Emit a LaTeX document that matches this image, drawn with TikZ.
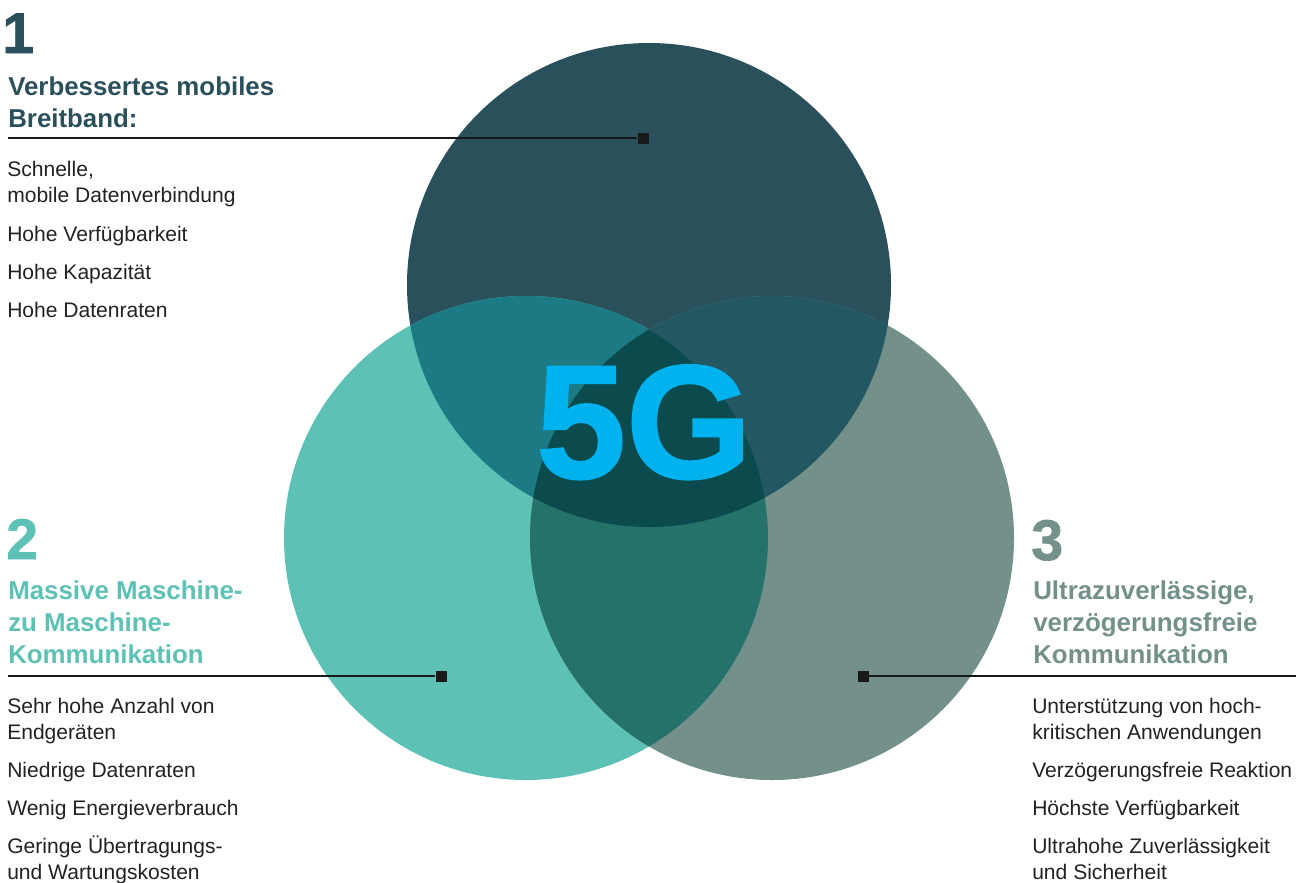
\documentclass[tikz,border=0pt]{standalone}
\usepackage{fontspec}
\setmainfont{Liberation Sans}
\newfontfamily\heavyfont[FakeBold=1.2]{Liberation Sans Bold}
\usetikzlibrary{positioning}

\definecolor{topcol}{HTML}{2A505C}
\definecolor{leftcol}{HTML}{5DC2B5}
\definecolor{rightcol}{HTML}{73908A}
\definecolor{tlcol}{HTML}{1B7A83}
\definecolor{trcol}{HTML}{235762}
\definecolor{lrcol}{HTML}{25726A}
\definecolor{midcol}{HTML}{0B4B4E}
\definecolor{gcol}{HTML}{00B2EE}
\definecolor{bodytext}{HTML}{222222}

% multi-line nodes: the base anchor sits on the last line
\tikzset{
  body/.style={anchor=base west, inner sep=0pt, align=left, text=bodytext,
    font=\fontsize{15.8}{19.5}\selectfont},
  head/.style={anchor=base west, inner sep=0pt, align=left,
    font=\fontsize{19.4}{24}\selectfont\bfseries},
  num/.style={anchor=base west, inner sep=0pt, font=\fontsize{43}{43}\heavyfont},
  marker/.style={fill=black!90, minimum size=8.25pt, inner sep=0pt},
  leader/.style={draw=black!90, line width=1.5pt},
}

\begin{document}
\begin{tikzpicture}[x=0.75pt, y=-0.75pt]
\useasboundingbox (0,0) rectangle (1309,882);

% circles
\coordinate (ctop) at (649,285);
\coordinate (cleft) at (526,538);
\coordinate (cright) at (772,538);

\fill[topcol] (ctop) circle[radius=181.5pt];
\fill[leftcol] (cleft) circle[radius=181.5pt];
\fill[rightcol] (cright) circle[radius=181.5pt];

% overlaps
\begin{scope}
  \clip (ctop) circle[radius=181.5pt];
  \fill[tlcol] (cleft) circle[radius=181.5pt];
  \fill[trcol] (cright) circle[radius=181.5pt];
\end{scope}
\begin{scope}
  \clip (cleft) circle[radius=181.5pt];
  \fill[lrcol] (cright) circle[radius=181.5pt];
  \clip (cright) circle[radius=181.5pt];
  \fill[midcol] (ctop) circle[radius=181.5pt];
\end{scope}

% block 1
\node[num, text=topcol] (n1) at (2,53) {1};
\node[head, text=topcol] (h1) at (8,127) {Verbessertes mobiles\\Breitband:};
\coordinate (e1) at (8,138);
\node[marker] (m1) at (643,138) {};
\draw[leader] (e1) -- (m1);
\node[body] (b11) at (7,202) {Schnelle,\\mobile Datenverbindung};
\node[body] (b12) at (7,241) {Hohe Verfügbarkeit};
\node[body] (b13) at (7,279) {Hohe Kapazität};
\node[body] (b14) at (7,317) {Hohe Datenraten};

% block 2
\node[num, text=leftcol] (n2) at (6,559) {2};
\node[head, text=leftcol] (h2) at (8,663) {Massive Maschine-\\zu Maschine-\\Kommunikation};
\coordinate (e2) at (8,676);
\node[marker] (m2) at (441,676) {};
\draw[leader] (e2) -- (m2);
\node[body] (b21) at (7,739) {Sehr hohe Anzahl von\\Endgeräten};
\node[body] (b22) at (7,777) {Niedrige Datenraten};
\node[body] (b23) at (7,815) {Wenig Energieverbrauch};
\node[body] (b24) at (7,879) {Geringe Übertragungs-\\und Wartungskosten};

% block 3
\node[num, text=rightcol] (n3) at (1031,560) {3};
\node[head, text=rightcol] (h3) at (1033,663) {Ultrazuverlässige,\\verzögerungsfreie\\Kommunikation};
\coordinate (e3) at (1296,676);
\node[marker] (m3) at (863,676) {};
\draw[leader] (m3) -- (e3);
\node[body] (b31) at (1032,739) {Unterstützung von hoch-\\kritischen Anwendungen};
\node[body] (b32) at (1032,777) {Verzögerungsfreie Reaktion};
\node[body] (b33) at (1032,815) {Höchste Verfügbarkeit};
\node[body] (b34) at (1032,879) {Ultrahohe Zuverlässigkeit\\und Sicherheit};

% 5G
\node[anchor=base, inner sep=0pt, text=gcol, font=\fontsize{121.5}{121.5}\heavyfont] (g) at (644,478) {5G};

\end{tikzpicture}
\end{document}
